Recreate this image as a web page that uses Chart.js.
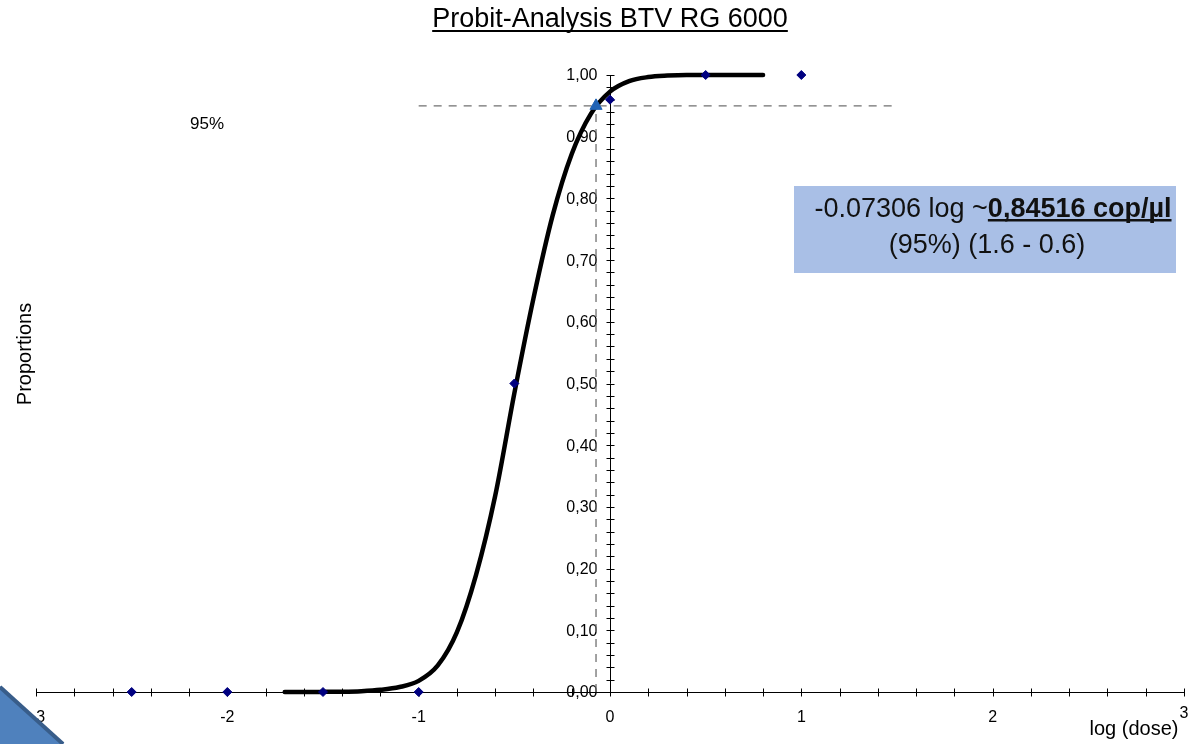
<!DOCTYPE html>
<html>
<head>
<meta charset="utf-8">
<title>Probit-Analysis BTV RG 6000</title>
<script src="https://cdn.jsdelivr.net/npm/chart.js@4.4.1/dist/chart.umd.min.js"></script>
<style>
    html, body { margin: 0; padding: 0; background: #fff; }
    #wrap { width: 1198px; height: 744px; }
</style>
</head>
<body>
<div id="wrap"><canvas id="chart" width="1198" height="744"></canvas></div>
<script>
// observed hit rates
const doseLog = [-2.5, -2, -1.5, -1, -0.5, 0, 0.5, 1];
const observed = [0, 0, 0, 0, 0.5, 0.96, 1, 1];

// fitted probit curve
const fitLog = [-1.7, -1.6, -1.5, -1.4, -1.3, -1.2, -1.1, -1.0, -0.9, -0.8, -0.7, -0.6, -0.5,
    -0.4, -0.3, -0.2, -0.1, 0.0, 0.1, 0.2, 0.3, 0.4, 0.5, 0.6, 0.7, 0.8];
const fitProp = [0, 0.0001, 0.0002, 0.0005, 0.0014, 0.0035, 0.008, 0.018, 0.043, 0.097, 0.19, 0.318, 0.484,
    0.638, 0.772, 0.872, 0.937, 0.973, 0.99, 0.9966, 0.999, 1, 1, 1, 1, 1];

// 95% hit point and guide line ends
const ld95 = -0.07306;
const p95 = 0.95;
const guideX = [-1, 1.5];

// axis ticks
const xTicks = [-3, -2, -1, 0, 1, 2, 3];
const xTickLabels = ['-3', '-2', '-1', '0', '1', '2', '3'];
const yTicks = [0, 0.1, 0.2, 0.3, 0.4, 0.5, 0.6, 0.7, 0.8, 0.9, 1];
const yTickLabels = ['0,00', '0,10', '0,20', '0,30', '0,40', '0,50', '0,60', '0,70', '0,80', '0,90', '1,00'];
const xMinorStep = 0.2;
const yMinorStep = 0.02;

const FONT = "'Liberation Sans', Arial, Helvetica, sans-serif";

const axesPlugin = {
    id: 'crossAxes',
    beforeDatasetsDraw(chart) {
        const {ctx, scales: {x, y}} = chart;
        const x0 = Math.round(x.getPixelForValue(0)) + 0.5;
        const y0 = Math.round(y.getPixelForValue(0)) + 0.5;
        ctx.save();
        ctx.strokeStyle = '#000';
        ctx.lineWidth = 1;
        ctx.beginPath();
        ctx.moveTo(x.left, y0);
        ctx.lineTo(x.right, y0);
        ctx.moveTo(x0, y.top);
        ctx.lineTo(x0, y.bottom);
        const nx = Math.round((x.max - x.min) / xMinorStep);
        for (let i = 0; i <= nx; i++) {
            const px = Math.round(x.getPixelForValue(x.min + i * xMinorStep)) + 0.5;
            ctx.moveTo(px, y0 - 4);
            ctx.lineTo(px, y0 + 4);
        }
        const ny = Math.round((y.max - y.min) / yMinorStep);
        for (let i = 0; i <= ny; i++) {
            const py = Math.round(y.getPixelForValue(y.min + i * yMinorStep)) + 0.5;
            ctx.moveTo(x0 - 4, py);
            ctx.lineTo(x0 + 4, py);
        }
        ctx.stroke();

        ctx.fillStyle = '#000';
        ctx.font = '16px ' + FONT;
        ctx.textAlign = 'center';
        ctx.textBaseline = 'middle';
        xTicks.forEach((v, i) => {
            const dy = i === xTicks.length - 1 ? 21 : 25;
            ctx.fillText(xTickLabels[i], x.getPixelForValue(v) + (i === 0 ? 2 : 0), y0 + dy);
        });
        ctx.textAlign = 'right';
        yTicks.forEach((v, i) => {
            ctx.fillText(yTickLabels[i], x0 - 13, y.getPixelForValue(v) + 1);
        });
        ctx.restore();
    },
    afterDraw(chart) {
        const {ctx} = chart;
        ctx.save();
        ctx.fillStyle = '#000';

        // title, underlined
        ctx.font = '27px ' + FONT;
        ctx.textAlign = 'center';
        ctx.textBaseline = 'alphabetic';
        const title = 'Probit-Analysis BTV RG 6000';
        ctx.fillText(title, 610, 27);
        const tw = ctx.measureText(title).width;
        ctx.fillRect(610 - tw / 2, 30, tw, 2);

        // axis titles
        ctx.font = '20px ' + FONT;
        ctx.textBaseline = 'middle';
        ctx.fillText('log (dose)', 1134, 729);
        ctx.save();
        ctx.translate(25, 354);
        ctx.rotate(-Math.PI / 2);
        ctx.fillText('Proportions', 0, 0);
        ctx.restore();

        ctx.font = '17px ' + FONT;
        ctx.fillText('95%', 207, 124);

        // result box
        ctx.fillStyle = '#a9bfe6';
        ctx.fillRect(794, 186, 382, 87);
        ctx.fillStyle = '#111';
        ctx.textBaseline = 'alphabetic';
        const partA = '-0.07306 log ~';
        const partB = '0,84516 cop/µl';
        ctx.font = '27px ' + FONT;
        const wa = ctx.measureText(partA).width;
        ctx.font = 'bold 27px ' + FONT;
        const wb = ctx.measureText(partB).width;
        const sx = 993 - (wa + wb) / 2;
        ctx.textAlign = 'left';
        ctx.font = '27px ' + FONT;
        ctx.fillText(partA, sx, 217);
        ctx.font = 'bold 27px ' + FONT;
        ctx.fillText(partB, sx + wa, 217);
        ctx.fillRect(sx + wa, 219, wb, 2.5);
        ctx.font = '27px ' + FONT;
        ctx.textAlign = 'center';
        ctx.fillText('(95%) (1.6 - 0.6)', 987, 253);

        // corner decoration
        ctx.beginPath();
        ctx.moveTo(0, 686);
        ctx.lineTo(64, 744);
        ctx.lineTo(0, 744);
        ctx.closePath();
        ctx.fillStyle = '#4f81bd';
        ctx.fill();
        ctx.beginPath();
        ctx.moveTo(0, 687);
        ctx.lineTo(63, 744);
        ctx.strokeStyle = '#385d8a';
        ctx.lineWidth = 4;
        ctx.stroke();
        ctx.restore();
    }
};

new Chart(document.getElementById('chart'), {
    type: 'scatter',
    data: {
        datasets: [
            {
                label: '95%',
                data: [{x: ld95, y: p95}],
                pointStyle: 'triangle',
                pointRadius: 7,
                backgroundColor: '#1f62b5',
                borderColor: '#1f62b5',
                borderWidth: 1,
                clip: false
            },
            {
                label: 'observed',
                data: doseLog.map((v, i) => ({x: v, y: observed[i]})),
                pointStyle: 'rectRot',
                pointRadius: 4.5,
                backgroundColor: '#000080',
                borderColor: '#000080',
                borderWidth: 1,
                clip: false
            },
            {
                label: 'probit',
                data: fitLog.map((v, i) => ({x: v, y: fitProp[i]})),
                showLine: true,
                borderColor: '#000',
                borderWidth: 4.5,
                borderCapStyle: 'round',
                borderJoinStyle: 'round',
                cubicInterpolationMode: 'monotone',
                pointRadius: 0,
                clip: false
            },
            {
                label: 'h95',
                data: guideX.map(v => ({x: v, y: p95})),
                showLine: true,
                borderColor: '#707070',
                borderWidth: 1.3,
                borderDash: [8, 7],
                pointRadius: 0,
                clip: false
            },
            {
                label: 'v95',
                data: [{x: ld95, y: 0}, {x: ld95, y: p95}],
                showLine: true,
                borderColor: '#707070',
                borderWidth: 1.3,
                borderDash: [8, 7],
                pointRadius: 0,
                clip: false
            }
        ]
    },
    options: {
        responsive: false,
        animation: false,
        devicePixelRatio: 1,
        layout: {padding: {left: 36, right: 14, top: 75, bottom: 52}},
        scales: {
            x: {type: 'linear', min: -3, max: 3, display: false},
            y: {type: 'linear', min: 0, max: 1, display: false}
        },
        plugins: {
            legend: {display: false},
            tooltip: {enabled: false},
            title: {display: false}
        }
    },
    plugins: [axesPlugin]
});
</script>
</body>
</html>
